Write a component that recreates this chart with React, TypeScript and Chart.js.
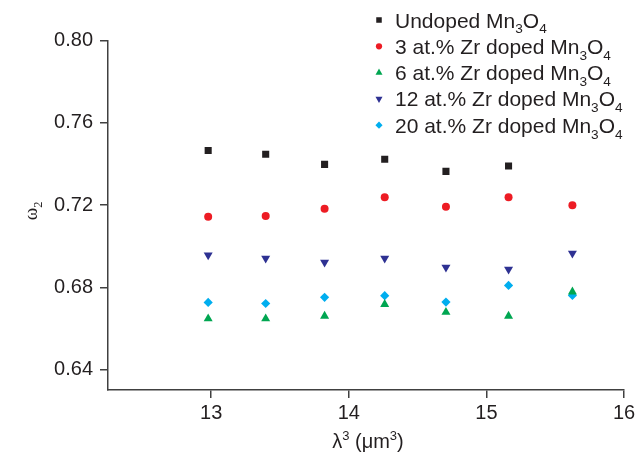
import React, { useEffect, useRef } from "react";
import { Chart, registerables } from "chart.js";

Chart.register(...registerables);

// λ³ values (µm³) for λ = 2.350 … 2.500 µm
const lambdaCubed = [12.978, 13.396, 13.824, 14.261, 14.706, 15.161, 15.625];

// ω₂ intensity parameter for each composition
const undoped = [0.7466, 0.7447, 0.7398, 0.7423, 0.7364, 0.739];
const zr3 = [0.7143, 0.7147, 0.7182, 0.7238, 0.7192, 0.7238, 0.7199];
const zr6 = [0.6647, 0.6647, 0.666, 0.6717, 0.6679, 0.666, 0.6778];
const zr12 = [0.6957, 0.6941, 0.6921, 0.6941, 0.6897, 0.6887, 0.6965];
const zr20 = [0.6726, 0.6721, 0.6751, 0.6759, 0.6728, 0.6809, 0.676];

const seriesNames = [
  "Undoped Mn₃O₄",
  "3 at.% Zr doped Mn₃O₄",
  "6 at.% Zr doped Mn₃O₄",
  "12 at.% Zr doped Mn₃O₄",
  "20 at.% Zr doped Mn₃O₄",
];

const xTicks = [13, 14, 15, 16];
const yTicks = [0.64, 0.68, 0.72, 0.76, 0.8];

const xTitle = "λ³ (μm³)";
const yTitle = "ω₂";

const SANS = "'Liberation Sans', Arial, Helvetica, sans-serif";
const SERIF = "'Liberation Serif', 'Times New Roman', serif";
const INK = "#231f20";
const AXIS = "#404040";

type Marker = { style: string; rotation: number; color: string; radius: number };

const markers: Marker[] = [
  { style: "rect", rotation: 0, color: "#231f20", radius: 5 },
  { style: "circle", rotation: 0, color: "#ed1c24", radius: 4 },
  { style: "triangle", rotation: 0, color: "#00a651", radius: 5.2 },
  { style: "triangle", rotation: 180, color: "#2e3192", radius: 5.2 },
  { style: "rectRot", rotation: 0, color: "#00aeef", radius: 4.6 },
];

const seriesValues = [undoped, zr3, zr6, zr12, zr20];

const SUB = "₀₁₂₃₄₅₆₇₈₉";
const SUP = "⁰¹²³⁴⁵⁶⁷⁸⁹";

type Seg = { t: string; kind: "n" | "sub" | "sup" };

function splitRich(text: string): Seg[] {
  const out: Seg[] = [];
  for (const ch of Array.from(text)) {
    let kind: Seg["kind"] = "n";
    let t = ch;
    const si = SUB.indexOf(ch);
    const pi = SUP.indexOf(ch);
    if (si >= 0) {
      kind = "sub";
      t = String(si);
    } else if (pi >= 0) {
      kind = "sup";
      t = String(pi);
    }
    const last = out[out.length - 1];
    if (last && last.kind === kind) last.t += t;
    else out.push({ t, kind });
  }
  return out;
}

function richWidth(ctx: CanvasRenderingContext2D, text: string, size: number, family: string) {
  let w = 0;
  for (const s of splitRich(text)) {
    const fs = s.kind === "n" ? size : size * 0.65;
    ctx.font = `${fs}px ${family}`;
    w += ctx.measureText(s.t).width;
  }
  return w;
}

function drawRich(
  ctx: CanvasRenderingContext2D,
  text: string,
  x: number,
  y: number,
  size: number,
  family: string,
  color: string
) {
  ctx.fillStyle = color;
  ctx.textBaseline = "alphabetic";
  ctx.textAlign = "left";
  let cx = x;
  for (const s of splitRich(text)) {
    const fs = s.kind === "n" ? size : size * 0.65;
    const dy = s.kind === "sub" ? size * 0.28 : s.kind === "sup" ? -size * 0.4 : 0;
    ctx.font = `${fs}px ${family}`;
    ctx.fillText(s.t, cx, y + dy);
    cx += ctx.measureText(s.t).width;
  }
}

function drawMarker(ctx: CanvasRenderingContext2D, m: Marker, x: number, y: number, r: number) {
  ctx.fillStyle = m.color;
  ctx.beginPath();
  if (m.style === "rect") {
    const h = r * Math.SQRT1_2;
    ctx.rect(x - h, y - h, 2 * h, 2 * h);
  } else if (m.style === "circle") {
    ctx.arc(x, y, r, 0, Math.PI * 2);
  } else if (m.style === "triangle") {
    const dir = m.rotation === 180 ? -1 : 1;
    for (let i = 0; i < 3; i++) {
      const a = (i * 2 * Math.PI) / 3;
      const px = x + Math.sin(a) * r;
      const py = y - dir * Math.cos(a) * r;
      if (i === 0) ctx.moveTo(px, py);
      else ctx.lineTo(px, py);
    }
    ctx.closePath();
  } else {
    ctx.moveTo(x - r, y);
    ctx.lineTo(x, y - r);
    ctx.lineTo(x + r, y);
    ctx.lineTo(x, y + r);
    ctx.closePath();
  }
  ctx.fill();
}

const annotations = {
  id: "annotations",
  afterDraw(chart: Chart) {
    const ctx = chart.ctx;
    ctx.save();

    // legend, top right
    const legendX = 379;
    const legendTop = 20;
    const rowGap = 26.3;
    seriesNames.forEach((name, i) => {
      const cy = legendTop + i * rowGap;
      drawMarker(ctx, markers[i], legendX, cy, markers[i].radius * 0.78);
      drawRich(ctx, name, legendX + 16, cy + 7.5, 21, SANS, INK);
    });

    // x axis title
    const area = chart.chartArea;
    const xs = 20;
    const xw = richWidth(ctx, xTitle, xs, SANS);
    drawRich(ctx, xTitle, (area.left + area.right) / 2 - xw / 2 + 2, 448, xs, SANS, INK);

    // y axis title, rotated
    ctx.save();
    ctx.translate(33, 211);
    ctx.rotate(-Math.PI / 2);
    const ys = 19;
    const yw = richWidth(ctx, yTitle, ys, SERIF);
    drawRich(ctx, yTitle, -yw / 2, 4, ys, SERIF, INK);
    ctx.restore();

    ctx.restore();
  },
};

export default function App() {
  const canvasRef = useRef<HTMLCanvasElement | null>(null);

  useEffect(() => {
    if (!canvasRef.current) return;

    const datasets = seriesValues.map((vals, i) => ({
      label: seriesNames[i],
      data: vals.map((v, j) => ({ x: lambdaCubed[j], y: v })),
      showLine: false,
      pointStyle: markers[i].style as any,
      rotation: markers[i].rotation,
      pointRadius: markers[i].radius,
      pointHoverRadius: markers[i].radius,
      backgroundColor: markers[i].color,
      borderColor: markers[i].color,
      borderWidth: 0,
    }));

    const tickFont = { family: SANS, size: 20 };

    const chart = new Chart(canvasRef.current, {
      type: "scatter",
      data: { datasets },
      plugins: [annotations],
      options: {
        animation: false,
        responsive: true,
        maintainAspectRatio: false,
        layout: { padding: { top: 40.7, right: 18, left: 0, bottom: 0 } },
        plugins: {
          legend: { display: false },
          tooltip: { enabled: false },
        },
        scales: {
          x: {
            type: "linear",
            min: 12.25,
            max: 16,
            afterBuildTicks: (s: any) => {
              s.ticks = xTicks.map((v) => ({ value: v }));
            },
            afterFit: (s: any) => {
              s.height = 69;
            },
            grid: {
              drawOnChartArea: false,
              drawTicks: true,
              tickLength: 8,
              color: AXIS,
              lineWidth: 1.5,
            },
            border: { display: true, color: AXIS, width: 1.5 },
            ticks: {
              font: tickFont,
              color: INK,
              padding: 3,
              maxRotation: 0,
              autoSkip: false,
              callback: (v: any) => String(v),
            },
          },
          y: {
            type: "linear",
            min: 0.63,
            max: 0.8,
            afterBuildTicks: (s: any) => {
              s.ticks = yTicks.map((v) => ({ value: v }));
            },
            afterFit: (s: any) => {
              s.width = 108;
            },
            grid: {
              drawOnChartArea: false,
              drawTicks: true,
              tickLength: 8,
              color: AXIS,
              lineWidth: 1.5,
            },
            border: { display: true, color: AXIS, width: 1.5 },
            ticks: {
              font: tickFont,
              color: INK,
              padding: 7,
              autoSkip: false,
              callback: (v: any) => Number(v).toFixed(2),
            },
          },
        },
      },
    });

    return () => chart.destroy();
  }, []);

  return (
    <div
      style={{
        position: "fixed",
        left: 0,
        top: 0,
        width: 642,
        height: 459,
        background: "#ffffff",
      }}
    >
      <canvas ref={canvasRef} />
    </div>
  );
}
